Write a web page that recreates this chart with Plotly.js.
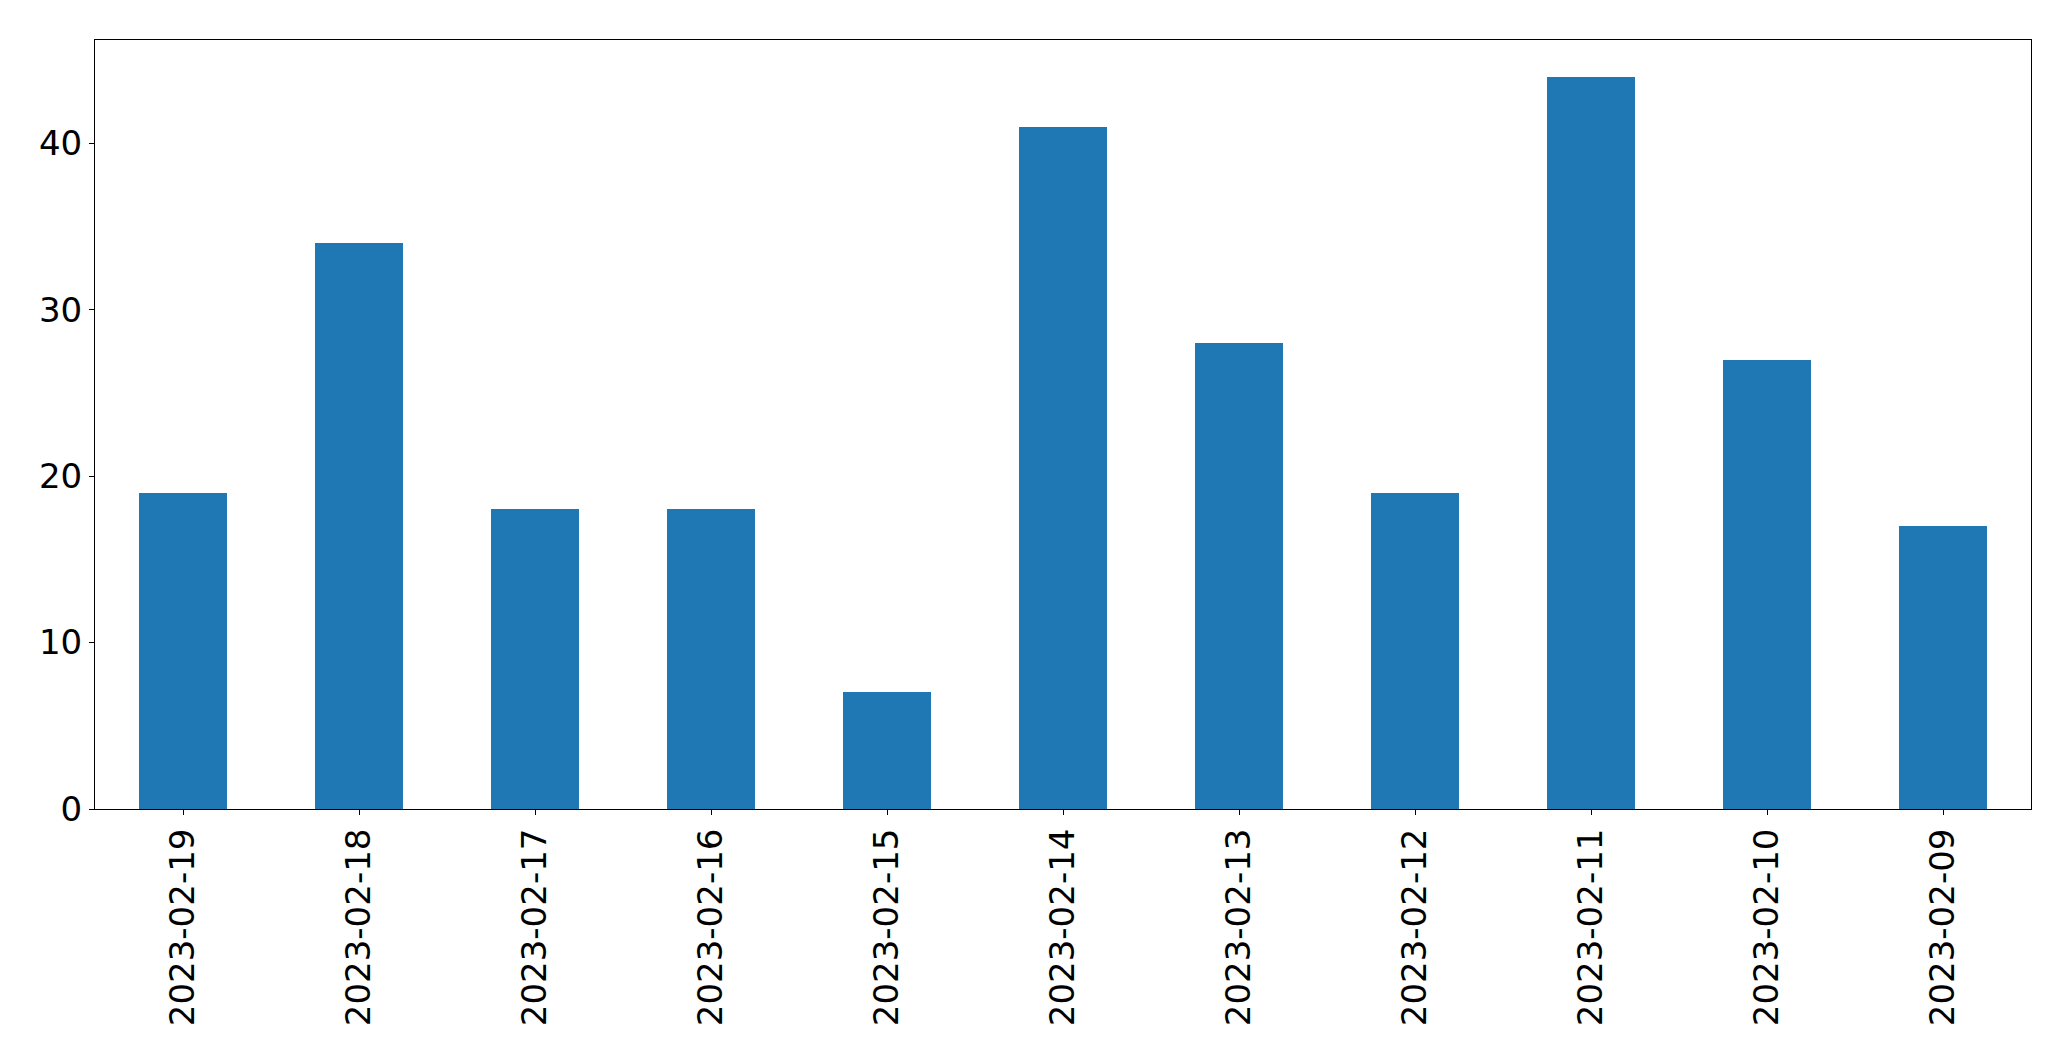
<!DOCTYPE html>
<html>
<head>
<meta charset="utf-8">
<script src="https://cdn.plot.ly/plotly-3.0.1.min.js"></script>
<style>html,body{margin:0;padding:0;background:#fff;}#chart{width:2071px;height:1061px;}</style>
</head>
<body>
<div id="chart"></div>
<script>
const dates = ["2023-02-19","2023-02-18","2023-02-17","2023-02-16","2023-02-15","2023-02-14","2023-02-13","2023-02-12","2023-02-11","2023-02-10","2023-02-09"];
const counts = [19, 34, 18, 18, 7, 41, 28, 19, 44, 27, 17];
const yTicks = [0, 10, 20, 30, 40];

const trace = {
  type: "bar",
  x: dates,
  y: counts,
  width: 0.5,
  marker: {color: "#1f77b4", line: {width: 0}},
  hoverinfo: "x+y"
};

const axisCommon = {
  showline: true, mirror: true, linecolor: "#000", linewidth: 1,
  ticks: "outside", ticklen: 5, tickwidth: 1, tickcolor: "#000",
  showgrid: false, zeroline: false,
  tickfont: {family: "DejaVu Sans", size: 34, color: "#000"}
};

const layout = {
  width: 2071, height: 1061,
  margin: {l: 94.5, r: 39.5, t: 39.5, b: 252, pad: 0},
  paper_bgcolor: "#fff", plot_bgcolor: "#fff",
  showlegend: false,
  bargap: 0,
  xaxis: Object.assign({}, axisCommon, {
    type: "category", range: [-0.5, dates.length - 0.5],
    tickangle: -90, categoryorder: "array", categoryarray: dates
  }),
  yaxis: Object.assign({}, axisCommon, {
    range: [0, Math.max(...counts) * 1.05],
    tickmode: "array", tickvals: yTicks, ticktext: yTicks.map(String)
  })
};

Plotly.newPlot("chart", [trace], layout, {staticPlot: true, displayModeBar: false});
</script>
</body>
</html>
